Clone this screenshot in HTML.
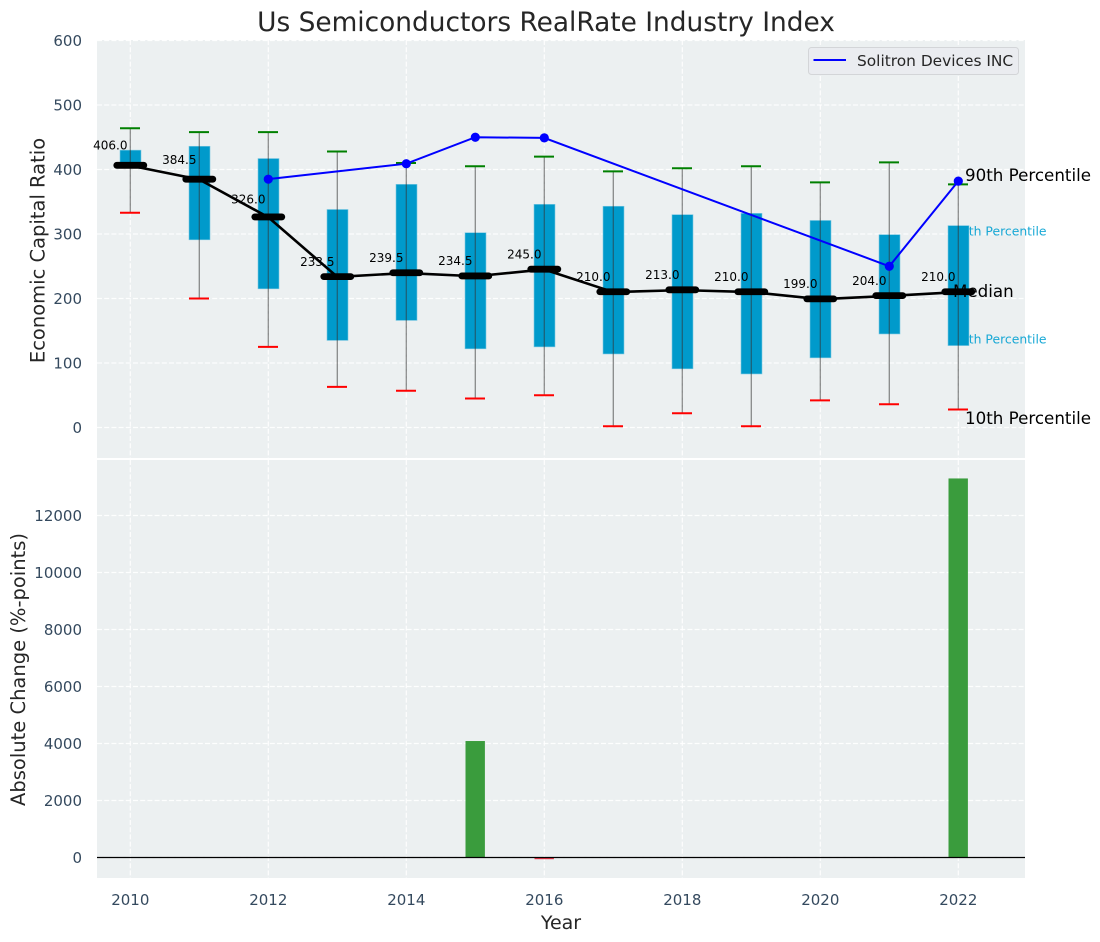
<!DOCTYPE html>
<html lang="en">
<head>
<meta charset="utf-8">
<title>Us Semiconductors RealRate Industry Index</title>
<style>
html,body{margin:0;padding:0;background:#fff;}
svg{display:block;font-family:"DejaVu Sans","Liberation Sans",sans-serif;}
</style>
</head>
<body>
<svg id="chart" width="1100" height="942" viewBox="0 0 1100 942" xmlns="http://www.w3.org/2000/svg">
  <rect x="0" y="0" width="1100" height="942" fill="#ffffff"/>
  <rect x="97" y="40" width="928" height="418" fill="#ecf0f1"/>
  <rect x="97" y="460" width="928" height="418" fill="#ecf0f1"/>
  <g id="grid"></g>
  <g id="percentile-labels-blue">
    <text x="953" y="235.5" font-size="12.4" fill="#00a0d2" fill-opacity="0.9">75th Percentile</text>
    <text x="953" y="343.5" font-size="12.4" fill="#00a0d2" fill-opacity="0.9">25th Percentile</text>
  </g>
  <g id="boxes"></g>
  <g id="percentile-labels-black">
    <text x="965" y="181" font-size="16.7" fill="#000000">90th Percentile</text>
    <text x="953" y="297" font-size="16.7" fill="#000000">Median</text>
    <text x="965" y="424" font-size="16.7" fill="#000000">10th Percentile</text>
  </g>
  <g id="whiskers"></g>
  <g id="medians"></g>
  <g id="solitron"></g>
  <g id="median-values"></g>
  <g id="change-bars"></g>
  <line x1="97" x2="1025" y1="857.5" y2="857.5" stroke="#000000" stroke-width="1.2"/>
  <g id="tick-labels"></g>
  <text x="546" y="31" font-size="26.4" fill="#262626" text-anchor="middle">Us Semiconductors RealRate Industry Index</text>
  <text transform="translate(44.5,250.5) rotate(-90)" font-size="19.5" fill="#262626" text-anchor="middle">Economic Capital Ratio</text>
  <text transform="translate(25,669.5) rotate(-90)" font-size="19.5" fill="#262626" text-anchor="middle">Absolute Change (%-points)</text>
  <text x="561" y="929" font-size="19" fill="#262626" text-anchor="middle">Year</text>
  <g>
    <rect x="808.5" y="47.5" width="210" height="27" rx="3" ry="3" fill="#eaecf0" stroke="#d3d5d8" stroke-width="1"/>
    <line x1="813.5" x2="846" y1="60" y2="60" stroke="#0000ff" stroke-width="2"/>
    <text x="857" y="66" font-size="15.4" fill="#262626">Solitron Devices INC</text>
  </g>
</svg>
<script>
var years = [2010,2011,2012,2013,2014,2015,2016,2017,2018,2019,2020,2021,2022];
var p90 = [464,458,458,428,410,405,420,397,402,405,380,411,377];
var p75 = [430,436,417,338,377,302,346,343,330,332,321,299,313];
var p25 = [406,291,215,135,166,122,125,114,91,83,108,145,127];
var p10 = [333,200,125,63,57,45,50,2,22,2,42,36,28];
var medianValues = [406,384.5,326,233.5,239.5,234.5,245,210,213,210,199,204,210];
var solitronYears = [2012,2014,2015,2016,2021,2022];
var solitronValues = [385,409,450,449,250,382];
var changeYears = [2015,2016,2022];
var changeValues = [4087,-60,13300];
var topTicks = [0,100,200,300,400,500,600];
var bottomTicks = [0,2000,4000,6000,8000,10000,12000];
var yearTicks = [2010,2012,2014,2016,2018,2020,2022];

var NS = 'http://www.w3.org/2000/svg';
function xScale(year){ return 130.3 + (year - 2010) * 69; }
function topY(value){ return 427.5 - value * 0.645; }
function bottomY(value){ return 857.5 - value * 0.0285; }
function make(parentId, tag, attrs, text){
  var el = document.createElementNS(NS, tag);
  for (var key in attrs) { el.setAttribute(key, attrs[key]); }
  if (text !== undefined) { el.textContent = text; }
  document.getElementById(parentId).appendChild(el);
  return el;
}
var gridStyle = {stroke:'#ffffff','stroke-width':1.2,'stroke-dasharray':'5 2.2','stroke-opacity':0.9};
function gridLine(x1,x2,y1,y2){
  var el = make('grid','line',Object.assign({x1:x1,x2:x2,y1:y1,y2:y2},gridStyle));
  
  
}
yearTicks.forEach(function(year){
  gridLine(xScale(year),xScale(year),40,458);
  gridLine(xScale(year),xScale(year),460,878);
  var label = make('tick-labels','text',{x:xScale(year),y:905,'font-size':15,fill:'#34495e','text-anchor':'middle'},String(year));
  
  
});
topTicks.forEach(function(value){
  gridLine(97,1025,topY(value),topY(value));
  var label = make('tick-labels','text',{x:82,y:topY(value)+5.5,'font-size':15,fill:'#34495e','text-anchor':'end'},String(value));
  
  
});
bottomTicks.forEach(function(value){
  gridLine(97,1025,bottomY(value),bottomY(value));
  var label = make('tick-labels','text',{x:82,y:bottomY(value)+5.5,'font-size':15,fill:'#34495e','text-anchor':'end'},String(value));
  
  
});
years.forEach(function(year,i){
  var x = xScale(year);
  var box = make('boxes','rect',{x:x-10.3,y:topY(p75[i]),width:21,height:topY(p25[i])-topY(p75[i]),fill:'#009acb',stroke:'#7cc8e2','stroke-width':0.6});
  
  
  var whisker = make('whiskers','line',{x1:x,x2:x,y1:topY(p90[i]),y2:topY(p10[i]),stroke:'#333333','stroke-opacity':0.55,'stroke-width':1.3});
  
  
  var highCap = make('whiskers','line',{x1:x-10.3,x2:x+9.7,y1:topY(p90[i]),y2:topY(p90[i]),stroke:'#008000','stroke-width':2});
  
  
  var lowCap = make('whiskers','line',{x1:x-10.3,x2:x+9.7,y1:topY(p10[i]),y2:topY(p10[i]),stroke:'#ff0000','stroke-width':2});
  
  
});
var medianPoints = years.map(function(year,i){ return xScale(year)+','+topY(medianValues[i]); }).join(' ');
var medianLine = make('medians','polyline',{points:medianPoints,fill:'none',stroke:'#000000','stroke-width':2.6,'stroke-linejoin':'round'});


years.forEach(function(year,i){
  var x = xScale(year), y = topY(medianValues[i]);
  var bar = make('medians','line',{x1:x-13.5,x2:x+13.5,y1:y-0.3,y2:y-0.3,stroke:'#000000','stroke-width':6.8,'stroke-linecap':'round'});
  
  
  var lift = 15 + Math.max(0, medianValues[i] - 240) * 0.03;
  var label = make('median-values','text',{x:x-20,y:y-lift+4,'font-size':12,fill:'#000000','text-anchor':'middle'},medianValues[i].toFixed(1));
  
  
});
var solitronPoints = solitronYears.map(function(year,i){ return xScale(year)+','+topY(solitronValues[i]); }).join(' ');
var solitronLine = make('solitron','polyline',{points:solitronPoints,fill:'none',stroke:'#0000ff','stroke-width':2});


solitronYears.forEach(function(year,i){
  var dot = make('solitron','circle',{cx:xScale(year),cy:topY(solitronValues[i]),r:4.6,fill:'#0000ff'});
  
  
});
changeYears.forEach(function(year,i){
  var v = changeValues[i];
  var top = Math.min(bottomY(v),bottomY(0));
  var h = Math.abs(bottomY(v)-bottomY(0));
  var bar = make('change-bars','rect',{x:xScale(year)-9.8,y:top,width:19.4,height:h,fill:v>=0?'#3a9c3d':'#e8384a'});
  
  
});
</script>
</body>
</html>
